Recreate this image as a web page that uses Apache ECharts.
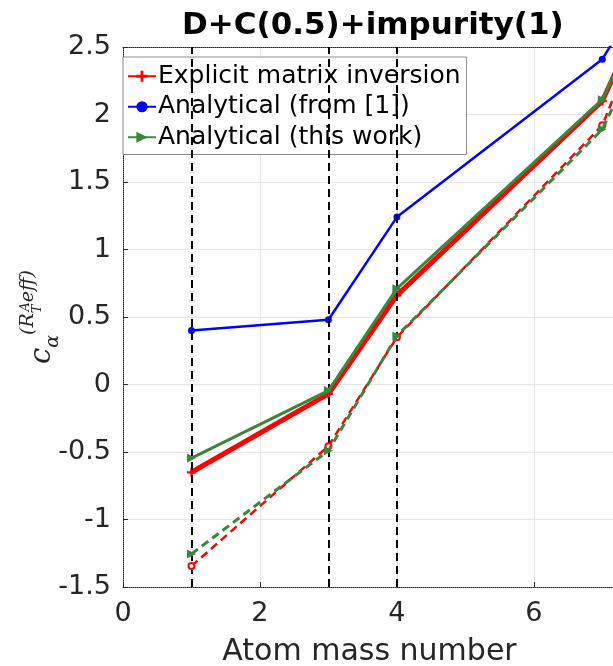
<!DOCTYPE html>
<html>
<head>
<meta charset="utf-8">
<script src="https://cdn.jsdelivr.net/npm/echarts@6/dist/echarts.min.js"></script>
<style>
  html, body { margin: 0; padding: 0; background: #fff; }
  #chart { width: 613px; height: 666px; }
</style>
</head>
<body>
<div id="chart"></div>
<script>
// Atom mass numbers where the coefficient was evaluated
const massNumbers = [1, 3, 4, 7, 9];
// Solid curves
const explicitInversion = [-0.65, -0.07, 0.66, 2.10, 4.30];
const analyticalRef1 = [0.40, 0.48, 1.24, 2.41, 4.05];
const analyticalThisWork = [-0.545, -0.045, 0.71, 2.11, 4.30];
// Dashed companions
const explicitInversionDashed = [-1.345, -0.457, 0.35, 1.92, 4.40];
const analyticalThisWorkDashed = [-1.255, -0.49, 0.36, 1.89, 4.00];
// Reference isotopes marked by vertical dashed lines
const markedMass = [1, 3, 4];
const xTickStep = 2;
const yTickStep = 0.5;

const FONT = 'DejaVu Sans';
const RED = '#ff0000', BLUE = '#0000ff', GREEN = '#3d853d';

function pairs(ys) { return massNumbers.map((x, i) => [x, ys[i]]); }

const plusPath = 'path://M3,0H5V3H8V5H5V8H3V5H0V3H3Z';

const chart = echarts.init(document.getElementById('chart'), null, { renderer: 'canvas' });

chart.setOption({
  animation: false,
  backgroundColor: '#ffffff',
  title: {
    text: 'D+C(0.5)+impurity(1)',
    left: 177, top: 5,
    textStyle: { fontFamily: FONT, fontWeight: 'bold', fontSize: 31, color: '#000' }
  },
  grid: { left: 123, top: 47, right: -3, bottom: 79, containLabel: false, outerBoundsMode: 'none' },
  legend: {
    data: ['Explicit matrix inversion', 'Analytical (from [1])', 'Analytical (this work)'],
    orient: 'vertical',
    left: 123, top: 57,
    padding: [4, 6, 2, 4],
    itemGap: 0,
    itemWidth: 28, itemHeight: 14,
    backgroundColor: '#ffffff',
    borderColor: '#8c8c8c', borderWidth: 1,
    textStyle: { fontFamily: FONT, fontSize: 25, color: '#000', lineHeight: 30.5, padding: [0, 0, 0, -3] }
  },
  xAxis: [{
    type: 'value', position: 'bottom',
    min: 0, max: 7.2, interval: xTickStep,
    name: 'Atom mass number', nameLocation: 'middle', nameGap: 50,
    nameTextStyle: { fontFamily: FONT, fontSize: 30, color: '#262626' },
    axisLine: { show: true, onZero: false, lineStyle: { color: '#262626', type: 'dotted', width: 1 } },
    axisTick: { show: true, inside: true, length: 5, lineStyle: { color: '#262626' } },
    axisLabel: {
      fontFamily: FONT, fontSize: 27, color: '#262626', margin: 13, showMaxLabel: true,
      formatter: v => (Math.abs(v / xTickStep - Math.round(v / xTickStep)) < 1e-9 ? String(v) : '')
    },
    splitLine: { show: true, lineStyle: { color: '#e6e6e6', width: 1 } }
  }, {
    type: 'value', position: 'top',
    min: 0, max: 7.2, interval: xTickStep,
    axisLine: { show: true, onZero: false, lineStyle: { color: '#262626', type: 'dotted', width: 1 } },
    axisTick: { show: false }, axisLabel: { show: false }, splitLine: { show: false }
  }],
  yAxis: {
    type: 'value',
    min: -1.5, max: 2.5, interval: yTickStep,
    name: '{c|c}{a|α}{s|(R}{sb|T}{sp|A}{s|eff)}',
    nameLocation: 'middle', nameRotate: 90, nameGap: 66, nameMoveOverlap: false,
    nameTextStyle: {
      color: '#262626',
      rich: {
        c: { fontFamily: 'DejaVu Serif', fontStyle: 'italic', fontSize: 29, lineHeight: 38, verticalAlign: 'bottom' },
        a: { fontFamily: 'DejaVu Serif', fontStyle: 'italic', fontSize: 19, lineHeight: 38, verticalAlign: 'bottom', padding: [0, 0, -6, 0] },
        s: { fontFamily: 'DejaVu Serif', fontStyle: 'italic', fontSize: 19, lineHeight: 38, verticalAlign: 'top' },
        sb: { fontFamily: 'DejaVu Serif', fontStyle: 'italic', fontSize: 13, lineHeight: 38, verticalAlign: 'top', padding: [12, 0, 0, 0] },
        sp: { fontFamily: 'DejaVu Serif', fontStyle: 'italic', fontSize: 13, lineHeight: 38, verticalAlign: 'top', padding: [0, 0, 0, -7] }
      }
    },
    axisLine: { show: true, lineStyle: { color: '#262626', type: 'dotted', width: 1 } },
    axisTick: { show: true, inside: true, length: 5, lineStyle: { color: '#262626' } },
    axisLabel: {
      fontFamily: FONT, fontSize: 27, color: '#262626', margin: 12,
      formatter: v => String(v)
    },
    splitLine: { show: true, lineStyle: { color: '#e6e6e6', width: 1 } }
  },
  series: [
    {
      name: 'markers', type: 'line', data: [], silent: true,
      markLine: {
        silent: true, symbol: ['none', 'none'], label: { show: false },
        lineStyle: { color: '#000', type: [8, 5], width: 2 },
        data: markedMass.map(x => ({ xAxis: x }))
      }
    },
    {
      name: 'Explicit matrix inversion', type: 'line', data: pairs(explicitInversion),
      symbol: plusPath, symbolSize: 9,
      lineStyle: { color: RED, width: 5 }, itemStyle: { color: RED }, z: 3
    },
    {
      name: 'Analytical (from [1])', type: 'line', data: pairs(analyticalRef1),
      symbol: 'circle', symbolSize: 7,
      lineStyle: { color: BLUE, width: 2.5 }, itemStyle: { color: BLUE }, z: 4
    },
    {
      name: 'Analytical (this work)', type: 'line', data: pairs(analyticalThisWork),
      symbol: 'triangle', symbolRotate: -90, symbolSize: 9,
      lineStyle: { color: GREEN, width: 3 }, itemStyle: { color: GREEN }, z: 5
    },
    {
      name: 'Explicit matrix inversion (dashed)', type: 'line', data: pairs(explicitInversionDashed),
      symbol: 'emptyCircle', symbolSize: 6,
      lineStyle: { color: RED, width: 2.5, type: [8, 5] },
      itemStyle: { color: RED, borderColor: RED, borderWidth: 1.5 }, z: 6
    },
    {
      name: 'Analytical (this work) (dashed)', type: 'line', data: pairs(analyticalThisWorkDashed),
      symbol: 'triangle', symbolRotate: -90, symbolSize: 9,
      lineStyle: { color: GREEN, width: 3, type: [8, 5] }, itemStyle: { color: GREEN }, z: 7
    }
  ]
});
</script>
</body>
</html>
